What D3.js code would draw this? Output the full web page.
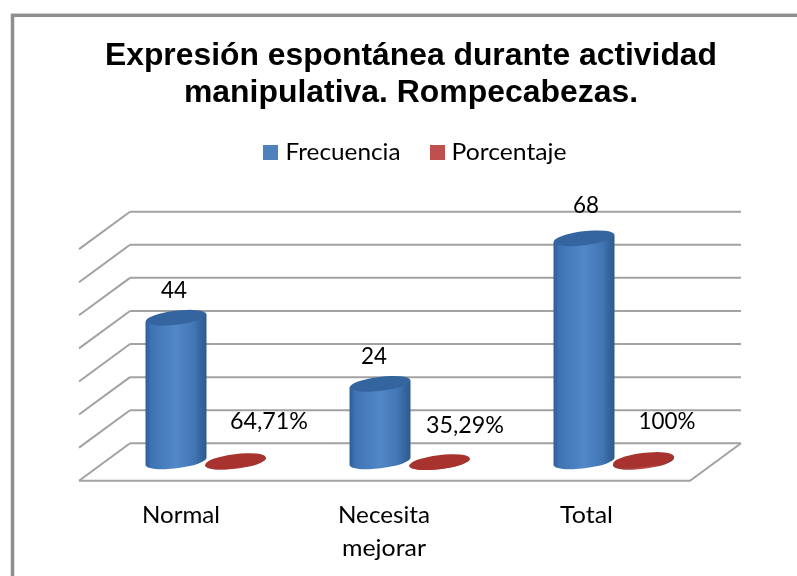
<!DOCTYPE html>
<html><head><meta charset="utf-8">
<style>html,body{margin:0;padding:0;background:#fff;overflow:hidden}svg{display:block}</style>
<script src="https://cdn.jsdelivr.net/npm/d3@7/dist/d3.min.js"></script>
</head><body><svg id="c" width="797" height="576"></svg>
<script>
const categories = [["Normal"], ["Necesita", "mejorar"], ["Total"]];
const frecuencia = [44, 24, 68];
const porcentaje = [0.6471, 0.3529, 1];
const porcentajeLabels = ["64,71%", "35,29%", "100%"];
const seriesNames = ["Frecuencia", "Porcentaje"];
const titleLines = ["Expresión espontánea durante actividad", "manipulativa. Rompecabezas."];
const axisTicks = [0, 10, 20, 30, 40, 50, 60, 70];

const svg = d3.select("#c");
const W = 797, H = 576;
const y = d3.scaleLinear().domain([0, 70]).range([443.3, 211.7]);
const x = d3.scaleBand().domain([0, 1, 2]).range([74, 686]);
const depthX = -51, depthY = 37.4, baseDrop = 20;
const floorL = 130, floorR = 741;
const rx = 30.5, ry = 7, tilt = -7;
const grey = "#a2a2a2";

const defs = svg.append("defs");
function grad(id, stops) {
  const g = defs.append("linearGradient").attr("id", id);
  stops.forEach(s => g.append("stop").attr("offset", s[0]).attr("stop-color", s[1]));
}
grad("blue", [[0, "#2f5e97"], [0.1, "#3f74b5"], [0.5, "#5287c8"], [0.78, "#4277b6"], [0.92, "#34639c"], [1, "#2e5a8c"]]);
grad("red", [[0, "#93302d"], [0.5, "#c04a47"], [1, "#8c2e2b"]]);
defs.append("filter").attr("id", "soft").append("feGaussianBlur").attr("stdDeviation", 0.5);

// frame
svg.append("rect").attr("x", 12.5).attr("y", 15.3).attr("width", W + 20).attr("height", H + 20)
  .attr("fill", "#fff").attr("stroke", "#8f8f8f").attr("stroke-width", 3.5);

// walls and floor
const grid = svg.append("g").attr("fill", "none").attr("stroke", grey).attr("stroke-width", 2);
axisTicks.forEach(t => {
  grid.append("line").attr("x1", floorL).attr("x2", floorR).attr("y1", y(t)).attr("y2", y(t));
  grid.append("line").attr("x1", floorL).attr("x2", floorL + depthX).attr("y1", y(t)).attr("y2", y(t) + depthY);
});
grid.append("path").attr("d", d3.line()([
  [floorL + depthX, y(0) + depthY], [floorR + depthX, y(0) + depthY], [floorR, y(0)]
]));

// cylinders
const marks = svg.append("g").attr("filter", "url(#soft)");
function cylinder(cx, value, fill, topFill, foot) {
  const top = base - (y(0) - y(value));
  const dy = rx * Math.sin(tilt * Math.PI / 180);
  const bottom = Math.max(top, foot);
  const g = marks.append("g");
  g.append("path").attr("fill", fill).attr("d",
    `M${cx - rx},${top - dy}L${cx - rx},${bottom - dy}` +
    `A${rx},${ry} ${tilt} 0 0 ${cx + rx},${bottom + dy}L${cx + rx},${top + dy}Z`);
  g.append("ellipse").attr("cx", cx).attr("cy", top).attr("rx", rx).attr("ry", ry)
    .attr("transform", `rotate(${tilt} ${cx} ${top})`).attr("fill", topFill);
}
const base = y(0) + baseDrop;
const blueX = i => x(i) + x.bandwidth() / 2;
const offsetRed = 59.5;
categories.forEach((c, i) => {
  cylinder(blueX(i), frecuencia[i], "url(#blue)", "#35659f", base - 2);
  cylinder(blueX(i) + offsetRed, porcentaje[i], "url(#red)", "#a8322f", base - 1.5);
});

// text
function text(s, px, py, size, w, fam, weight) {
  return svg.append("text").text(s).attr("x", px).attr("y", py).attr("text-anchor", "middle")
    .attr("font-family", fam || "Lato, 'Open Sans', sans-serif").attr("font-size", size)
    .attr("font-weight", weight || 400).attr("fill", "#000")
    .attr("textLength", w).attr("lengthAdjust", "spacingAndGlyphs");
}
const sans = "'Liberation Sans', Arial, sans-serif";
text(titleLines[0], 411, 65, 31.5, 612, sans, 700);
text(titleLines[1], 411, 102, 31.5, 454, sans, 700);

// legend
const legendX = [263, 430], legendFill = ["#4f81bd", "#c0504d"], legendTextX = [343, 509], legendW = [115, 115];
seriesNames.forEach((s, i) => {
  svg.append("rect").attr("x", legendX[i]).attr("y", 145).attr("width", 15).attr("height", 15).attr("fill", legendFill[i]);
  text(s, legendTextX[i], 160, 23.5, legendW[i]);
});

// data labels
const valOffset = [[-2, -20], [-6, -20], [2, -25.5]];
frecuencia.forEach((v, i) => {
  text(String(v), blueX(i) + valOffset[i][0], base - (y(0) - y(v)) + valOffset[i][1], 23, 26);
});
const pctPos = [[33.5, -34.6], [25.5, -30], [23.5, -34.6]];
const pctW = [78, 78, 57];
porcentajeLabels.forEach((s, i) => {
  text(s, blueX(i) + offsetRed + pctPos[i][0], base + pctPos[i][1], 23, pctW[i]);
});

// category labels
const catX = [181, 384, 586.5];
const catW = [[78], [92, 84], [53]];
categories.forEach((c, i) => c.forEach((l, j) => {
  text(l, catX[i], 522.7 + j * 33.3, 23.5, catW[i][j]);
}));
</script></body></html>
